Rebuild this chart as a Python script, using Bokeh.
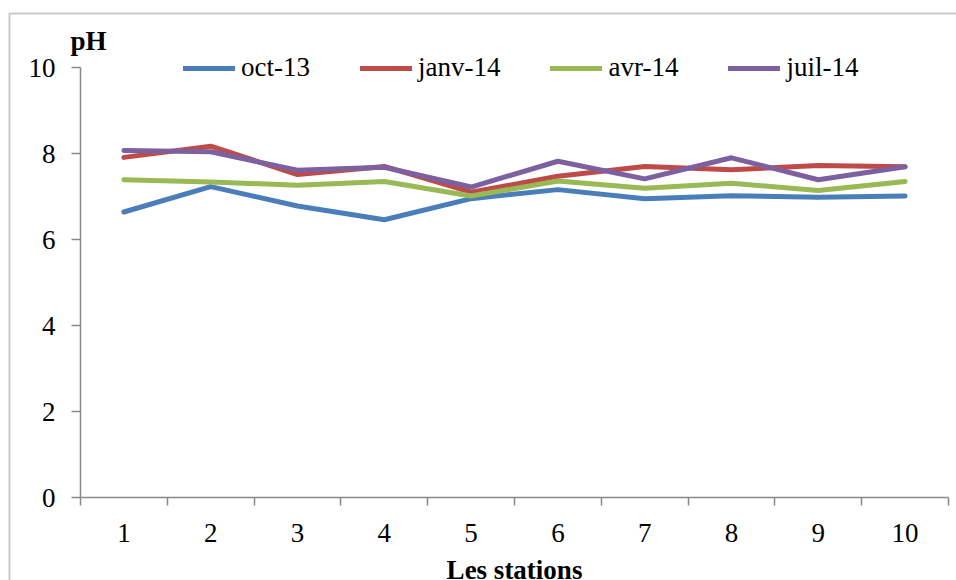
from bokeh.plotting import figure
from bokeh.models import (Legend, LegendItem, FixedTicker, Label, BoxAnnotation, Range1d)
from bokeh.embed import file_html
from bokeh.resources import INLINE

stations = [1, 2, 3, 4, 5, 6, 7, 8, 9, 10]
station_labels = ["1", "2", "3", "4", "5", "6", "7", "8", "9", "10"]
oct_13 = [6.64, 7.23, 6.78, 6.46, 6.95, 7.16, 6.95, 7.02, 6.98, 7.01]
janv_14 = [7.91, 8.17, 7.51, 7.70, 7.10, 7.47, 7.70, 7.62, 7.72, 7.69]
avr_14 = [7.39, 7.34, 7.26, 7.35, 7.01, 7.36, 7.19, 7.31, 7.14, 7.35]
juil_14 = [8.07, 8.04, 7.61, 7.68, 7.22, 7.82, 7.41, 7.90, 7.39, 7.69]
series_names = ["oct-13", "janv-14", "avr-14", "juil-14"]
series_values = [oct_13, janv_14, avr_14, juil_14]
colors = ["#4A7EBB", "#BE4B48", "#98B954", "#7D60A0"]
y_ticks = [0, 2, 4, 6, 8, 10]

FONT = "Liberation Serif"
FS = "27px"

# pixel layout (canvas 956 x 580): plot area from x 80..948, y 67 (10) .. 497 (0)
W, H = 956, 580
PL, PR, PT, PB = 80, 948, 67, 497
X0, X1 = 0.5, 10.5
Y0, Y1 = 0.0, 10.0
sx = (PR - PL) / (X1 - X0)
sy = (PB - PT) / (Y1 - Y0)


def dx(px):
    return X0 + (px - PL) / sx


def dy(py):
    return Y0 + (PB - py) / sy


p = figure(width=W, height=H, output_backend="svg", toolbar_location=None,
           x_range=Range1d(dx(0), dx(W)), y_range=Range1d(dy(H), dy(0)))
p.min_border_left = 0
p.min_border_right = 0
p.min_border_top = 0
p.min_border_bottom = 0
p.outline_line_color = None
p.xgrid.grid_line_color = None
p.ygrid.grid_line_color = None
p.background_fill_color = "white"
p.border_fill_color = "white"

renderers = []
for name, vals, c in zip(series_names, series_values, colors):
    r = p.line(stations, vals, line_color=c, line_width=5, line_cap="round", line_join="round")
    renderers.append((name, r))

# x axis
xa = p.xaxis[0]
xa.fixed_location = Y0
xa.bounds = (X0, X1)
xa.ticker = FixedTicker(ticks=stations, minor_ticks=[s - 0.5 for s in stations] + [stations[-1] + 0.5])
xa.major_label_overrides = {s: l for s, l in zip(stations, station_labels)}
xa.major_tick_out = 0
xa.major_tick_in = 0
xa.minor_tick_out = 8
xa.minor_tick_in = 0
xa.minor_tick_line_color = "#898989"
xa.minor_tick_line_width = 1.5
xa.axis_line_color = "#898989"
xa.axis_line_width = 1.5
xa.major_label_text_font = FONT
xa.major_label_text_font_size = FS
xa.major_label_text_color = "black"
xa.major_label_standoff = 18

ya = p.yaxis[0]
ya.fixed_location = X0
ya.bounds = (Y0, Y1)
ya.ticker = FixedTicker(ticks=y_ticks, minor_ticks=[])
ya.major_tick_out = 9
ya.major_tick_in = 0
ya.minor_tick_out = 0
ya.minor_tick_in = 0
ya.major_tick_line_color = "#898989"
ya.major_tick_line_width = 1.5
ya.axis_line_color = "#898989"
ya.axis_line_width = 1.5
ya.major_label_text_font = FONT
ya.major_label_text_font_size = FS
ya.major_label_text_color = "black"
ya.major_label_standoff = 16

# axis titles
p.add_layout(Label(x=dx(88), y=dy(40), text="pH", text_font=FONT, text_font_size=FS,
                   text_font_style="bold", text_align="center", text_baseline="middle",
                   text_color="black"))
p.add_layout(Label(x=dx(514), y=dy(569), text="Les stations", text_font=FONT, text_font_size=FS,
                   text_font_style="bold", text_align="center", text_baseline="middle",
                   text_color="black"))

legend = Legend(items=[LegendItem(label=n, renderers=[r]) for n, r in renderers],
                orientation="horizontal", location=(183, 497),
                glyph_width=52, glyph_height=20, label_standoff=6, spacing=50,
                padding=0, margin=0, border_line_color=None, background_fill_alpha=0,
                label_text_font=FONT, label_text_font_size=FS, label_text_color="black")
p.add_layout(legend, "center")

# outer chart border (cropped at right and bottom like the reference)
p.add_layout(BoxAnnotation(left=dx(9), right=dx(W + 50), top=dy(13), bottom=dy(H + 50),
                           fill_alpha=0, fill_color=None, line_color="#4d4d4d", line_width=2))

open("out.html", "w").write(file_html(p, INLINE))
